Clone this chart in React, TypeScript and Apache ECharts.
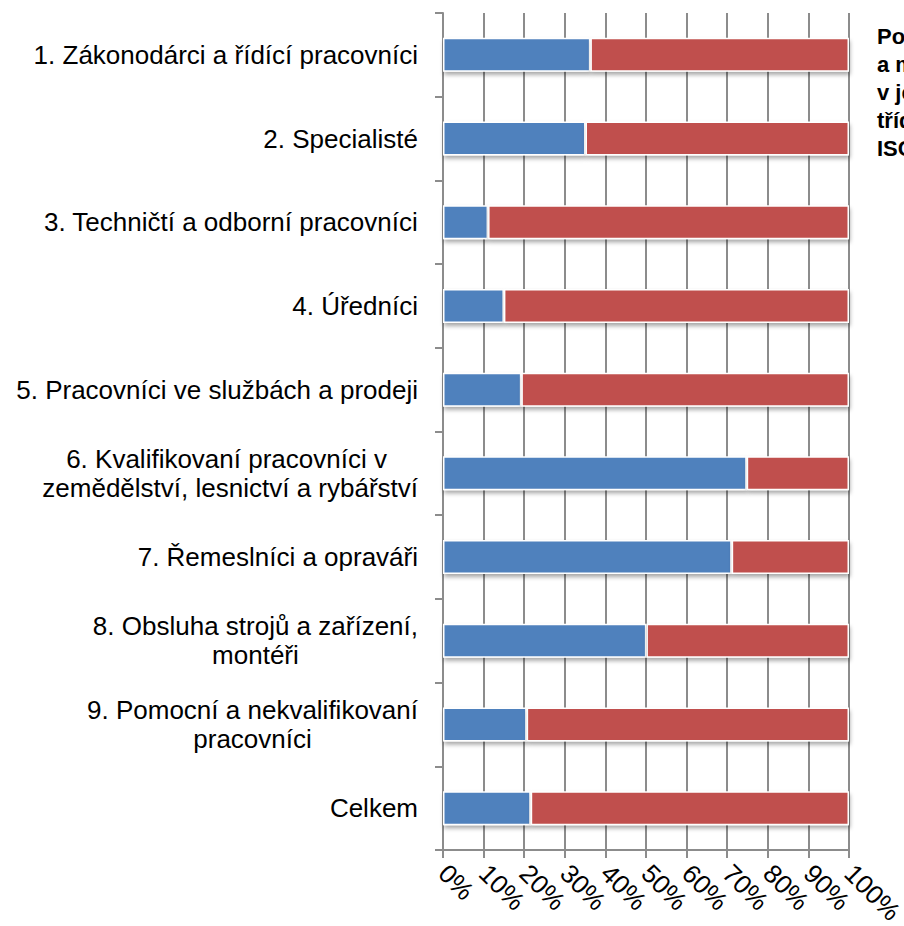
import React, { useEffect, useRef } from "react";
import * as echarts from "echarts";

const categories = [
  "1. Zákonodárci a řídící pracovníci",
  "2. Specialisté",
  "3. Techničtí a odborní pracovníci",
  "4. Úředníci",
  "5. Pracovníci ve službách a prodeji",
  "6. Kvalifikovaní pracovníci v \nzemědělství, lesnictví a rybářství",
  "7. Řemeslníci a opraváři",
  "8. Obsluha strojů a zařízení,\nmontéři",
  "9. Pomocní a nekvalifikovaní\npracovníci",
  "Celkem",
];

const muzi = [36.3, 35.1, 11.1, 15.0, 19.3, 74.8, 71.1, 50.1, 20.6, 21.6];
const zeny = [63.7, 64.9, 88.9, 85.0, 80.7, 25.2, 28.9, 49.9, 79.4, 78.4];

const titleText = "Podíl žen\na mužů\nv jednotlivých\ntřídách\nISCO";

const FONT = "'Liberation Sans', Arial, sans-serif";
const GRID = "#8c8c8c";

export default function App() {
  const ref = useRef<HTMLDivElement>(null);
  useEffect(() => {
    if (!ref.current) return;
    const chart = echarts.init(ref.current, null, { renderer: "svg" });
    const itemBase = {
      borderColor: "#ffffff",
      borderWidth: 1.5,
      shadowColor: "rgba(0,0,0,0.35)",
      shadowBlur: 4,
      shadowOffsetX: 1,
      shadowOffsetY: 3,
    };
    chart.setOption({
      animation: false,
      backgroundColor: "#ffffff",
      title: {
        text: titleText,
        left: 877,
        top: 22,
        padding: 0,
        textStyle: {
          fontFamily: FONT,
          fontSize: 22,
          fontWeight: "bold",
          lineHeight: 28,
          color: "#000",
        },
      },
      grid: {
        left: 443,
        right: 55,
        top: 13,
        bottom: 76,
        containLabel: false,
        outerBoundsMode: "none",
      },
      xAxis: {
        type: "value",
        min: 0,
        max: 100,
        interval: 10,
        axisLine: { show: true, lineStyle: { color: GRID, width: 2 } },
        axisTick: { show: true, length: 8, lineStyle: { color: GRID, width: 2 } },
        splitLine: { show: true, lineStyle: { color: GRID, width: 2 } },
        axisLabel: {
          rotate: -45,
          margin: 19,
          fontFamily: FONT,
          fontSize: 26,
          color: "#000",
          formatter: (v: number) => `${v}%`,
        },
      },
      yAxis: {
        type: "category",
        inverse: true,
        data: categories,
        axisLine: { show: true, lineStyle: { color: GRID, width: 2 } },
        axisTick: { show: true, length: 8, lineStyle: { color: GRID, width: 2 } },
        splitLine: { show: false },
        axisLabel: {
          margin: 25,
          fontFamily: FONT,
          fontSize: 26,
          color: "#000",
          formatter: (v: string) =>
            v
              .split("\n")
              .map((l) => `{c|${l}}`)
              .join("\n"),
          rich: {
            c: {
              align: "center",
              fontFamily: FONT,
              fontSize: 26,
              lineHeight: 29,
              color: "#000",
            },
          },
        },
      },
      series: [
        {
          name: "Muži",
          type: "bar",
          stack: "total",
          barWidth: 34,
          data: muzi,
          itemStyle: { ...itemBase, color: "#4F81BD" },
        },
        {
          name: "Ženy",
          type: "bar",
          stack: "total",
          barWidth: 34,
          data: zeny,
          itemStyle: { ...itemBase, color: "#C0504D" },
        },
      ],
    });
    return () => chart.dispose();
  }, []);
  return (
    <div
      ref={ref}
      style={{ position: "fixed", left: 0, top: 0, width: 904, height: 926 }}
    />
  );
}
